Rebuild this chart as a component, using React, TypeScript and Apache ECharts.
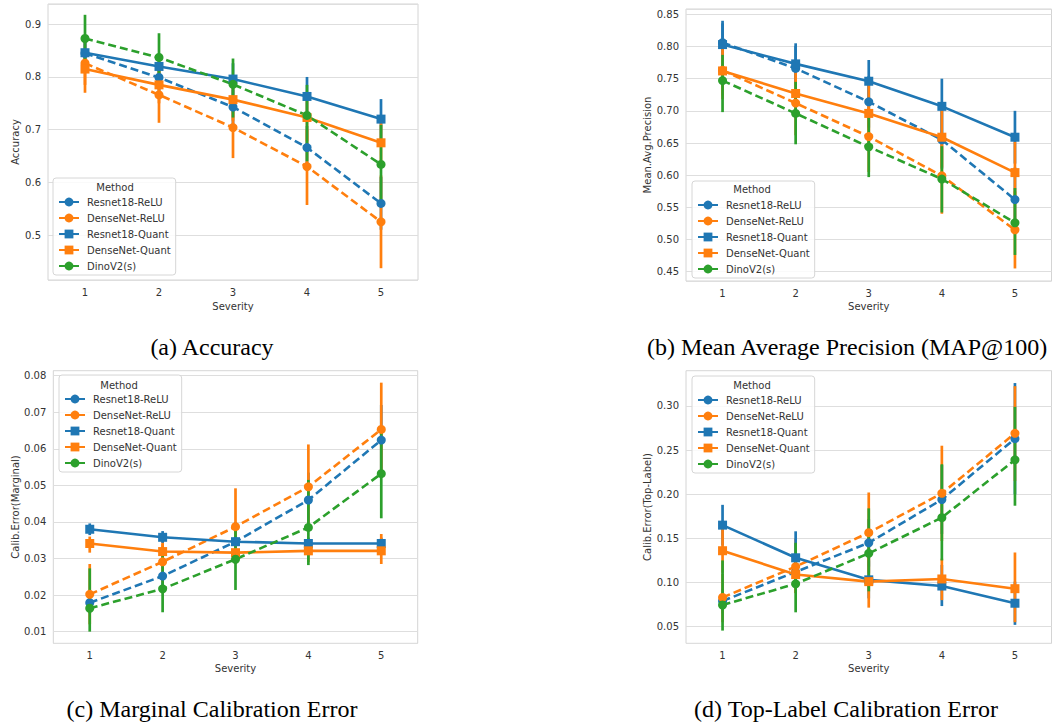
import React, { useEffect, useRef } from "react";
import * as echarts from "echarts";

const severities = ["1", "2", "3", "4", "5"];
const methods = ["Resnet18-ReLU", "DenseNet-ReLU", "Resnet18-Quant", "DenseNet-Quant", "DinoV2(s)"];

// each point: [mean, ciLow, ciHigh]
// (a) Accuracy
const accResnetReLU = [[0.845, 0.823, 0.867], [0.799, 0.772, 0.826], [0.743, 0.71, 0.776], [0.666, 0.625, 0.707], [0.56, 0.51, 0.61]];
const accDenseReLU = [[0.826, 0.77, 0.88], [0.766, 0.713, 0.82], [0.704, 0.646, 0.762], [0.63, 0.557, 0.7], [0.525, 0.437, 0.613]];
const accResnetQuant = [[0.846, 0.826, 0.866], [0.82, 0.795, 0.845], [0.796, 0.766, 0.826], [0.763, 0.726, 0.8], [0.72, 0.682, 0.758]];
const accDenseQuant = [[0.815, 0.785, 0.845], [0.785, 0.75, 0.82], [0.757, 0.717, 0.797], [0.723, 0.678, 0.768], [0.675, 0.632, 0.718]];
const accDino = [[0.873, 0.815, 0.918], [0.837, 0.779, 0.883], [0.786, 0.723, 0.835], [0.727, 0.64, 0.785], [0.634, 0.56, 0.709]];

// (b) Mean Average Precision
const mapResnetReLU = [[0.806, 0.776, 0.836], [0.766, 0.731, 0.801], [0.714, 0.674, 0.754], [0.655, 0.61, 0.7], [0.562, 0.512, 0.612]];
const mapDenseReLU = [[0.763, 0.718, 0.808], [0.712, 0.662, 0.762], [0.66, 0.605, 0.715], [0.599, 0.54, 0.658], [0.515, 0.455, 0.575]];
const mapResnetQuant = [[0.803, 0.766, 0.84], [0.773, 0.741, 0.805], [0.746, 0.713, 0.779], [0.707, 0.664, 0.75], [0.659, 0.618, 0.7]];
const mapDenseQuant = [[0.762, 0.724, 0.8], [0.727, 0.688, 0.766], [0.696, 0.646, 0.746], [0.659, 0.612, 0.706], [0.604, 0.556, 0.652]];
const mapDino = [[0.747, 0.698, 0.787], [0.696, 0.648, 0.745], [0.644, 0.597, 0.69], [0.594, 0.542, 0.645], [0.526, 0.476, 0.58]];

// (c) Marginal Calibration Error
const mceResnetReLU = [[0.0179, 0.015, 0.0208], [0.0252, 0.0215, 0.029], [0.0346, 0.029, 0.04], [0.046, 0.0385, 0.0535], [0.0624, 0.053, 0.072]];
const mceDenseReLU = [[0.0202, 0.012, 0.0285], [0.0291, 0.0235, 0.035], [0.0387, 0.0285, 0.0492], [0.0496, 0.0385, 0.0612], [0.0653, 0.0525, 0.0781]];
const mceResnetQuant = [[0.038, 0.0364, 0.0396], [0.0358, 0.0343, 0.0375], [0.0346, 0.033, 0.036], [0.0341, 0.0325, 0.0357], [0.0341, 0.0325, 0.0357]];
const mceDenseQuant = [[0.0341, 0.0316, 0.036], [0.0319, 0.0295, 0.034], [0.0316, 0.029, 0.034], [0.0321, 0.029, 0.035], [0.0321, 0.0285, 0.0367]];
const mceDino = [[0.0164, 0.01, 0.0273], [0.0217, 0.0153, 0.0323], [0.0298, 0.0214, 0.0396], [0.0385, 0.0282, 0.0515], [0.0532, 0.041, 0.065]];

// (d) Top-Label Calibration Error
const tceResnetReLU = [[0.079, 0.065, 0.093], [0.112, 0.095, 0.13], [0.145, 0.118, 0.172], [0.194, 0.155, 0.233], [0.263, 0.2, 0.326]];
const tceDenseReLU = [[0.083, 0.055, 0.11], [0.118, 0.088, 0.15], [0.1565, 0.111, 0.202], [0.201, 0.147, 0.255], [0.269, 0.215, 0.3225]];
const tceResnetQuant = [[0.165, 0.142, 0.188], [0.128, 0.098, 0.158], [0.103, 0.082, 0.125], [0.096, 0.0733, 0.12], [0.0765, 0.052, 0.101]];
const tceDenseQuant = [[0.136, 0.111, 0.161], [0.109, 0.088, 0.13], [0.101, 0.0715, 0.13], [0.104, 0.08, 0.127], [0.093, 0.055, 0.134]];
const tceDino = [[0.0745, 0.0455, 0.125], [0.0985, 0.0662, 0.145], [0.133, 0.09, 0.184], [0.1735, 0.125, 0.234], [0.239, 0.187, 0.299]];

const yTitles = ["Accuracy", "Mean.Avg.Precision", "Calib.Error(Marginal)", "Calib.Error(Top-Label)"];
const captions = ["(a) Accuracy", "(b) Mean Average Precision (MAP@100)", "(c) Marginal Calibration Error", "(d) Top-Label Calibration Error"];

const panelData = [
  [accResnetReLU, accDenseReLU, accResnetQuant, accDenseQuant, accDino],
  [mapResnetReLU, mapDenseReLU, mapResnetQuant, mapDenseQuant, mapDino],
  [mceResnetReLU, mceDenseReLU, mceResnetQuant, mceDenseQuant, mceDino],
  [tceResnetReLU, tceDenseReLU, tceResnetQuant, tceDenseQuant, tceDino],
];

const methodColors = ["#1f77b4", "#ff7f0e", "#1f77b4", "#ff7f0e", "#2ca02c"];
const methodSymbols = ["circle", "circle", "rect", "rect", "circle"];
const methodDashed = [true, true, false, false, true];

// layout
const grids = [
  { left: 48, top: 4, width: 370, height: 276 },
  { left: 686, top: 9, width: 365.5, height: 272 },
  { left: 53.3, top: 370.7, width: 364.4, height: 272.6 },
  { left: 686, top: 370.7, width: 365.5, height: 272.6 },
];
const yRanges = [
  { min: 0.4146, max: 0.9385, split: 5, dec: 1 },
  { min: 0.4355, max: 0.8583, split: 8, dec: 2 },
  { min: 0.00681, max: 0.08137, split: 7, dec: 2 },
  { min: 0.0311, max: 0.34, split: 6, dec: 2 },
];
const yNameGaps = [28, 33, 33, 33];
const xNameGaps = [21, 20, 20, 20];
const legendPos = [
  { left: 53, top: 178, titleX: 115, titleY: 187 },
  { left: 692, top: 181, titleX: 752, titleY: 189 },
  { left: 59, top: 375, titleX: 119, titleY: 385 },
  { left: 692, top: 376, titleX: 752, titleY: 385 },
];
const captionPos = [
  { x: 212, y: 347 },
  { x: 847, y: 347 },
  { x: 212, y: 709 },
  { x: 846, y: 709 },
];

const FONT = "DejaVu Sans";
const TXT = "#333333";

export default function App() {
  const ref = useRef<HTMLDivElement>(null);
  useEffect(() => {
    if (!ref.current) return;
    const chart = echarts.init(ref.current, undefined, { renderer: "svg" });

    const series: any[] = [];
    panelData.forEach((panel, p) => {
      // error bars
      panel.forEach((pts, m) => {
        series.push({
          type: "custom",
          xAxisIndex: p,
          yAxisIndex: p,
          z: 2,
          silent: true,
          data: pts.map((d, i) => [i, d[1], d[2]]),
          encode: { x: 0, y: [1, 2] },
          renderItem: (params: any, api: any) => {
            const a = api.coord([api.value(0), api.value(1)]);
            const b = api.coord([api.value(0), api.value(2)]);
            return {
              type: "line",
              shape: { x1: a[0], y1: a[1], x2: b[0], y2: b[1] },
              style: { stroke: methodColors[m], lineWidth: 2.7 },
            };
          },
        });
      });
      // lines + markers
      panel.forEach((pts, m) => {
        series.push({
          type: "line",
          name: methods[m],
          xAxisIndex: p,
          yAxisIndex: p,
          z: 3,
          data: pts.map((d) => d[0]),
          symbol: methodSymbols[m],
          symbolSize: 9,
          showAllSymbol: true,
          itemStyle: { color: methodColors[m] },
          lineStyle: {
            color: methodColors[m],
            width: 2.6,
            type: methodDashed[m] ? [8, 4] : "solid",
          },
        });
      });
    });

    const option: any = {
      animation: false,
      grid: grids.map((g) => ({
        ...g,
        show: true,
        borderColor: "#d4d4d4",
        borderWidth: 1,
        backgroundColor: "transparent",
      })),
      xAxis: grids.map((g, i) => ({
        gridIndex: i,
        type: "category",
        data: severities,
        boundaryGap: true,
        axisLine: { show: false },
        axisTick: { show: false },
        splitLine: { show: false },
        axisLabel: { color: TXT, fontSize: 10, fontFamily: FONT, margin: 7 },
        name: "Severity",
        nameLocation: "middle",
        nameGap: xNameGaps[i],
        nameTextStyle: { color: TXT, fontSize: 10, fontFamily: FONT },
      })),
      yAxis: grids.map((g, i) => ({
        gridIndex: i,
        type: "value",
        min: yRanges[i].min,
        max: yRanges[i].max,
        splitNumber: yRanges[i].split,
        axisLine: { show: false },
        axisTick: { show: false },
        splitLine: { show: true, lineStyle: { color: "#dedede", width: 1 } },
        axisLabel: {
          color: TXT,
          fontSize: 10,
          fontFamily: FONT,
          margin: 7,
          showMinLabel: false,
          showMaxLabel: false,
          formatter: (v: number) => v.toFixed(yRanges[i].dec),
        },
        name: yTitles[i],
        nameLocation: "middle",
        nameGap: yNameGaps[i],
        nameTextStyle: { color: TXT, fontSize: 10, fontFamily: FONT },
      })),
      legend: legendPos.map((lp) => ({
        data: methods,
        orient: "vertical",
        left: lp.left,
        top: lp.top,
        selectedMode: false,
        itemWidth: 20,
        itemHeight: 11,
        itemGap: 6,
        padding: [19, 5, 4, 5],
        backgroundColor: "rgba(255,255,255,0.85)",
        borderColor: "#d6d6d6",
        borderWidth: 1,
        borderRadius: 3,
        lineStyle: { type: "solid" },
        textStyle: { color: TXT, fontSize: 10, fontFamily: FONT, padding: [0, 0, 0, 3] },
        z: 10,
      })),
      graphic: [
        ...legendPos.map((lp) => ({
          type: "text",
          x: lp.titleX,
          y: lp.titleY,
          z: 20,
          style: {
            text: "Method",
            fill: TXT,
            font: `10px '${FONT}'`,
            textAlign: "center",
            textVerticalAlign: "middle",
          },
        })),
        ...captionPos.map((cp, i) => ({
          type: "text",
          x: cp.x,
          y: cp.y,
          z: 20,
          style: {
            text: captions[i],
            fill: "#000",
            font: `24px 'Liberation Serif'`,
            textAlign: "center",
            textVerticalAlign: "middle",
          },
        })),
      ],
      series,
    };
    chart.setOption(option);
    return () => chart.dispose();
  }, []);
  return (
    <div
      ref={ref}
      style={{ position: "absolute", left: 0, top: 0, width: 1052, height: 723, background: "#fff" }}
    />
  );
}
